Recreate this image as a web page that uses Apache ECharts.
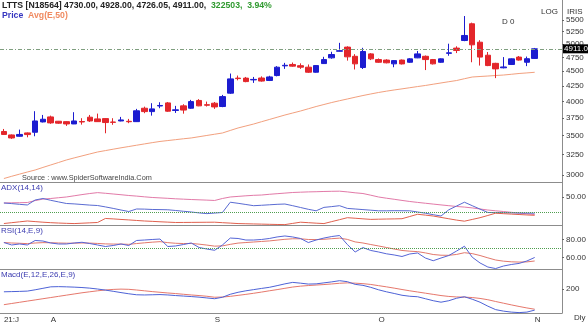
<!DOCTYPE html>
<html><head><meta charset="utf-8">
<script src="https://cdn.jsdelivr.net/npm/echarts/dist/echarts.min.js"></script>
<style>html,body{margin:0;padding:0;background:#fff}#c{width:588px;height:322px}</style>
</head><body><div id="c"></div>
<script>
const dates = ['2021-07-23','2021-07-26','2021-07-27','2021-07-28','2021-07-29','2021-07-30',
'2021-08-02','2021-08-03','2021-08-04','2021-08-05','2021-08-06','2021-08-09','2021-08-10','2021-08-11','2021-08-12','2021-08-13',
'2021-08-16','2021-08-17','2021-08-18','2021-08-20','2021-08-23','2021-08-24','2021-08-25','2021-08-26','2021-08-27','2021-08-30','2021-08-31',
'2021-09-01','2021-09-02','2021-09-03','2021-09-06','2021-09-07','2021-09-08','2021-09-09','2021-09-13','2021-09-14','2021-09-15','2021-09-16','2021-09-17',
'2021-09-20','2021-09-21','2021-09-22','2021-09-23','2021-09-24','2021-09-27','2021-09-28','2021-09-29','2021-09-30',
'2021-10-01','2021-10-04','2021-10-05','2021-10-06','2021-10-07','2021-10-08','2021-10-11','2021-10-12','2021-10-13','2021-10-14',
'2021-10-18','2021-10-19','2021-10-20','2021-10-21','2021-10-22','2021-10-25','2021-10-26','2021-10-27','2021-10-28','2021-10-29',
'2021-11-01'];
const padSlots = ['', '', ''];
// [open, close, low, high]
const ohlc = [
[3556,3515,3508,3591],[3508,3467,3455,3515],[3490,3515,3485,3582],[3536,3513,3476,3542],[3545,3705,3490,3849],
[3691,3730,3684,3793],[3764,3677,3664,3783],[3701,3673,3664,3705],[3695,3662,3634,3700],[3662,3705,3660,3834],
[3697,3690,3652,3745],[3760,3705,3691,3793],[3735,3695,3690,3813],[3739,3682,3531,3745],[3690,3685,3650,3745],
[3705,3720,3700,3764],[3700,3694,3673,3735],[3695,3855,3690,3884],[3894,3843,3819,3918],[3843,3884,3783,3971],
[3928,3936,3894,3986],[3976,3849,3840,3990],[3860,3870,3823,3930],[3930,3866,3812,3955],[3894,3996,3885,4023],
[4014,3930,3925,4035],[3948,3940,3920,3996],[3971,3914,3884,3990],[3920,4075,3910,4102],[4130,4367,4118,4459],
[4380,4372,4342,4424],[4380,4321,4310,4400],[4350,4358,4299,4400],[4382,4330,4320,4410],[4340,4400,4330,4420],
[4424,4571,4410,4590],[4595,4605,4541,4649],[4620,4590,4580,4655],[4598,4571,4541,4640],[4571,4482,4470,4620],
[4482,4600,4475,4610],[4636,4709,4630,4760],[4741,4803,4725,4855],[4865,4875,4860,5027],[4944,4760,4690,4960],
[4770,4631,4530,4810],[4565,4860,4539,4930],[4815,4722,4700,4830],[4709,4660,4650,4730],[4700,4650,4640,4715],
[4631,4690,4570,4700],[4700,4630,4620,4710],[4660,4722,4650,4735],[4741,4815,4735,4870],[4770,4709,4520,4785],
[4709,4631,4620,4720],[4660,4722,4650,4730],[4825,4835,4780,5010],[4925,4880,4830,4960],[5073,5174,5060,5582],
[5416,4988,4660,5440],[5040,4755,4600,5080],[4790,4600,4590,4850],[4640,4541,4380,4650],[4560,4575,4550,4755],
[4620,4722,4610,4730],[4755,4700,4690,4775],[4660,4725,4590,4765],[4730,4911,4726.05,4928]];
const avg50 = [2959,2985,3010,3035,3059,3090,3120,3150,3181,3207,
3232,3257,3282,3300,3318,3336,3353,3370,3387,3404,
3420,3432,3444,3456,3467,3484,3501,3518,3535,3570,
3605,3633,3661,3694,3726,3759,3792,3822,3852,3886,
3920,3951,3982,4010,4037,4065,4092,4117,4141,4162,
4182,4200,4219,4238,4256,4277,4298,4319,4339,4370,
4399,4408,4416,4425,4433,4446,4460,4470,4481];
const adxPink = [40,40.3,40.5,40.8,44,46.5,47.5,48.8,50,52,
54,55.8,57.3,56.2,55,53.8,52.5,51.5,50.3,49.2,
48.5,47.8,47,46.4,45.8,45.3,44.8,44.2,47.5,50,
51,52,52.8,53.3,54.5,55.5,56.5,57.5,58,58.5,
58.8,59.2,59.5,59.7,58.5,57,55.8,53,50,48,
46.2,44.3,42.5,41,39.6,38.2,36.8,35.5,34.2,33.2,
31.8,30,28.3,27,25.8,24.5,23.2,22,20.8];
const adxBlue = [40,39,37.8,36.7,45,47.5,44.5,41.8,39.2,38.5,
37.5,36.5,35.8,33.5,31,28.3,25.8,30,29.8,29.2,
29,28.7,27.5,26.2,25,23.5,22.3,23.2,24.2,41.3,
39.5,37.5,35.5,36.2,37,37.8,38.3,35.5,32.5,29.5,
27,32.7,34,35.5,31,30,29,28,27,27,
27.2,27.1,27,25,23,20.5,18.3,28.7,35,41.3,
35.5,29.8,24.2,24,23.8,23.5,23.3,23.2,23];
const adxRed = [5.8,7.2,8.6,10,9,8,7.2,6.6,6.1,5.7,
6.3,6.9,7.5,14.2,13.5,12.6,11.8,10.9,10,9.4,
8.7,8.1,7.5,7.6,7.7,7.8,7.9,8,7.2,6.5,
5.7,5.4,5.1,4.8,4.5,4.2,4,6,8,7.2,
6.4,5.7,9,12.2,15.5,14.6,13.6,12.7,13,13.3,
13.5,13.8,17.5,21.2,19.8,18.3,16,13.7,11.5,9.7,
12.6,15.5,19.2,23,22.2,21.5,20.8,20.1,19.5];
const rsi = [76.4,73.7,74.8,73.7,78.7,78.1,75.9,74.8,74.8,75.9,
76.7,75.3,73.7,72,73.1,74.8,73.1,78.7,79.2,79.8,
80.3,72,72.6,74.2,75.9,70.9,69.2,67.8,73.7,81.4,
80.9,79.2,79.2,79.8,80.9,82.6,83.7,82.6,80.9,76.4,
79.2,81.4,83.1,84.2,74.2,65.9,70.8,67.6,65.9,63.9,
62.6,60.9,63.7,64.8,59.2,56.2,59.2,62,67,72.3,
60.1,53.7,49.2,47.5,50.3,52,53.2,55.9,59.8];
const rsiSignal = [76.4,75.9,75.6,75.2,75.9,76.3,76.2,75.9,75.7,75.7,
75.9,75.8,75.4,74.9,74.7,74.7,74.4,75.3,76.1,76.8,
77.4,76.3,75.6,75.3,75.4,74.6,73.6,72.4,72.7,74.4,
75.8,76.4,77,77.6,78.2,79.1,80,80.6,80.6,79.8,
79.7,80,80.7,81.3,79.9,77.1,75.9,74.2,72.6,70.9,
69.2,67.6,66.8,66.3,64.9,63.1,62.3,62.2,63.2,65.1,
64.1,62,59.4,57,55.7,55,54.7,54.9,55.9];
const macd = [185,186,187,188.5,195,202.5,210,211,210,208.5,
206.5,203.5,199,193.5,187.5,181,175,170,169,170,
171,169,166,163.5,161,158,154,150,157.5,172.5,
182.5,190,196,202,207.5,216,225,232.5,228.5,224,
225,230,235,241,236,222.5,217.5,207.5,195,185,
176.5,167.5,162.5,160,150,140,132.5,140,152.5,160,
147.5,132.5,112.5,95,87.5,82.5,80,82.5,92.5];
const macdSignal = [120,126,132,138,144,150,156,162,168,174,
180,185,190,194,197,198.5,197.5,194,190,186,
182.5,179,176,172.5,169,166,162.5,157.5,158.5,162,
167,172,177.5,183.5,190,196,202.5,209,213.5,216.5,
219,221.5,224.5,228,230,228.5,226,222,216,210,
203.5,196.5,190,184,178,172,166,161.5,159,158,
156,151.5,145,136,127.5,119,111,103.5,97];
const priceTicks = [3000,3250,3500,3750,4000,4250,4500,4750,5000,5250,5500];
const adxTicks = [50];
const rsiTicks = [60,80];
const macdTicks = [200];
const monthLabels = {'2021-07-23':'21:J','2021-08-02':'A','2021-09-01':'S','2021-10-01':'O','2021-11-01':'N'};
const symbolName = 'LTTS [N18564]';
const volume = '322503';
const changePct = '3.94%';

const cats = dates.concat(padSlots);
const last = ohlc[ohlc.length - 1];
const FONT = 'Liberation Sans, Arial, sans-serif';
const AX = '#8c8c8c';
const TXT = '#333';
const HF = 8.7;

function xAx(gi, showLabels) {
  return {type:'category', gridIndex:gi, data:cats, boundaryGap:true,
    axisLine:{show:true, lineStyle:{color:AX, width:1}},
    axisTick:{show:false}, splitLine:{show:false},
    axisLabel: showLabels ? {show:true, interval:(i, v) => monthLabels[v] !== undefined,
      formatter:(v) => monthLabels[v] || '', align:'left', margin:3, fontSize:8, color:TXT, fontFamily:FONT} : {show:false}};
}
function yAx(gi, min, max, ticks, fmt, type) {
  return {type:type || 'value', gridIndex:gi, position:'right', min:min, max:max, scale:true,
    axisLine:{show:true, lineStyle:{color:AX, width:1}},
    axisTick:{show:true, length:2, lineStyle:{color:'#666'}, customValues:ticks},
    splitLine:{show:false},
    axisLabel:{show:true, customValues:ticks, formatter:fmt, margin:4, fontSize:8, color:TXT, fontFamily:FONT}};
}
const lineS = (xi, yi, data, color) => ({type:'line', xAxisIndex:xi, yAxisIndex:yi, data:data, symbol:'none',
  lineStyle:{color:color, width:1}, silent:true, z:3});

const grids = [
  {left:0, right:26, top:0, height:182},
  {left:0, right:26, top:182, height:43},
  {left:0, right:26, top:225, height:44},
  {left:0, right:26, top:269, height:44}
].map(g => Object.assign({containLabel:false, outerBoundsMode:'none'}, g));

const txt = (text, left, top, color, size) => ({text:text, left:left, top:top, padding:0,
  textStyle:{fontSize:size || 8, fontWeight:'normal', color:color, fontFamily:FONT}});

const option = {
  animation:false,
  backgroundColor:'#fff',
  grid: grids,
  title: [
    {text:'{k|' + symbolName + ' ' + last[0].toFixed(2) + ', ' + last[3].toFixed(2) + ', ' + last[2].toFixed(2) + ', ' + last[1].toFixed(2) + ',}  {g|' + volume + ',}  {g|' + changePct + '}',
     left:2, top:1, padding:0,
     textStyle:{fontSize:HF, fontFamily:FONT, rich:{k:{color:'#222', fontSize:HF, fontFamily:FONT}, g:{color:'#2f9a2f', fontSize:HF, fontFamily:FONT}}}},
    {text:'{b|Price}  {o|Avg(E,50)}', left:2, top:11, padding:0,
     textStyle:{fontSize:HF, fontFamily:FONT, rich:{b:{color:'#3535c0', fontSize:HF, fontFamily:FONT}, o:{color:'#f08a60', fontSize:HF, fontFamily:FONT}}}},
    txt('Source : www.SpiderSoftwareIndia.Com', 22, 174, '#444', 7.3),
    txt('ADX(14,14)', 1, 184, '#3a3ab0'),
    txt('RSI(14,E,9)', 1, 227, '#3a3ab0'),
    txt('Macd(E,12,E,26,E,9)', 1, 271, '#3a3ab0'),
    txt('D 0', 502, 18, '#333'),
    txt('LOG', 541, 8, '#333'),
    txt('IRIS', 567, 8, '#333'),
    txt('Dly', 574, 314, '#333')
  ],
  xAxis: [xAx(0,false), xAx(1,false), xAx(2,false), xAx(3,true)],
  yAxis: [
    yAx(0, 2919, 5943, priceTicks, v => String(v), 'log'),
    yAx(1, 3.33, 75, adxTicks, v => v.toFixed(2)),
    yAx(2, 47, 95.9, rsiTicks, v => v.toFixed(2)),
    yAx(3, 78, 300, macdTicks, v => String(v))
  ],
  series: [
    {type:'candlestick', xAxisIndex:0, yAxisIndex:0, data:ohlc.map(d => [d[0], d[1], d[2], d[3]]), barWidth:6,
     itemStyle:{color:'#1c1cd0', color0:'#e3262b', borderColor:'#1c1cd0', borderColor0:'#e3262b', borderColorDoji:'#1c1cd0', borderWidth:1},
     silent:true, z:4,
     markLine:{symbol:'none', silent:true, animation:false,
       lineStyle:{color:'#7f9f7f', type:[4,2,1,2], width:1},
       label:{show:true, position:'end', distance:1, formatter:() => last[1].toFixed(2), backgroundColor:'#000', color:'#fff',
              fontSize:8, fontFamily:FONT, padding:[1,1,0,1]},
       data:[{yAxis:last[1]}]}},
    lineS(0, 0, avg50, '#f2a07e'),
    Object.assign(lineS(1, 1, adxPink, '#e27aa8'), {markLine:{symbol:'none', silent:true, animation:false,
       lineStyle:{color:'#4f9f4f', type:'dotted', width:1}, label:{show:false}, data:[{yAxis:25}]}}),
    lineS(1, 1, adxBlue, '#5a6bd2'),
    lineS(1, 1, adxRed, '#e0604e'),
    Object.assign(lineS(2, 2, rsiSignal, '#e2786c'), {markLine:{symbol:'none', silent:true, animation:false,
       lineStyle:{color:'#4f9f4f', type:'dotted', width:1}, label:{show:false}, data:[{yAxis:70}]}}),
    lineS(2, 2, rsi, '#5565d6'),
    lineS(3, 3, macdSignal, '#e6786c'),
    lineS(3, 3, macd, '#4d62d6')
  ]
};
const chart = echarts.init(document.getElementById('c'), null, {renderer:'canvas'});
chart.setOption(option);
</script></body></html>
